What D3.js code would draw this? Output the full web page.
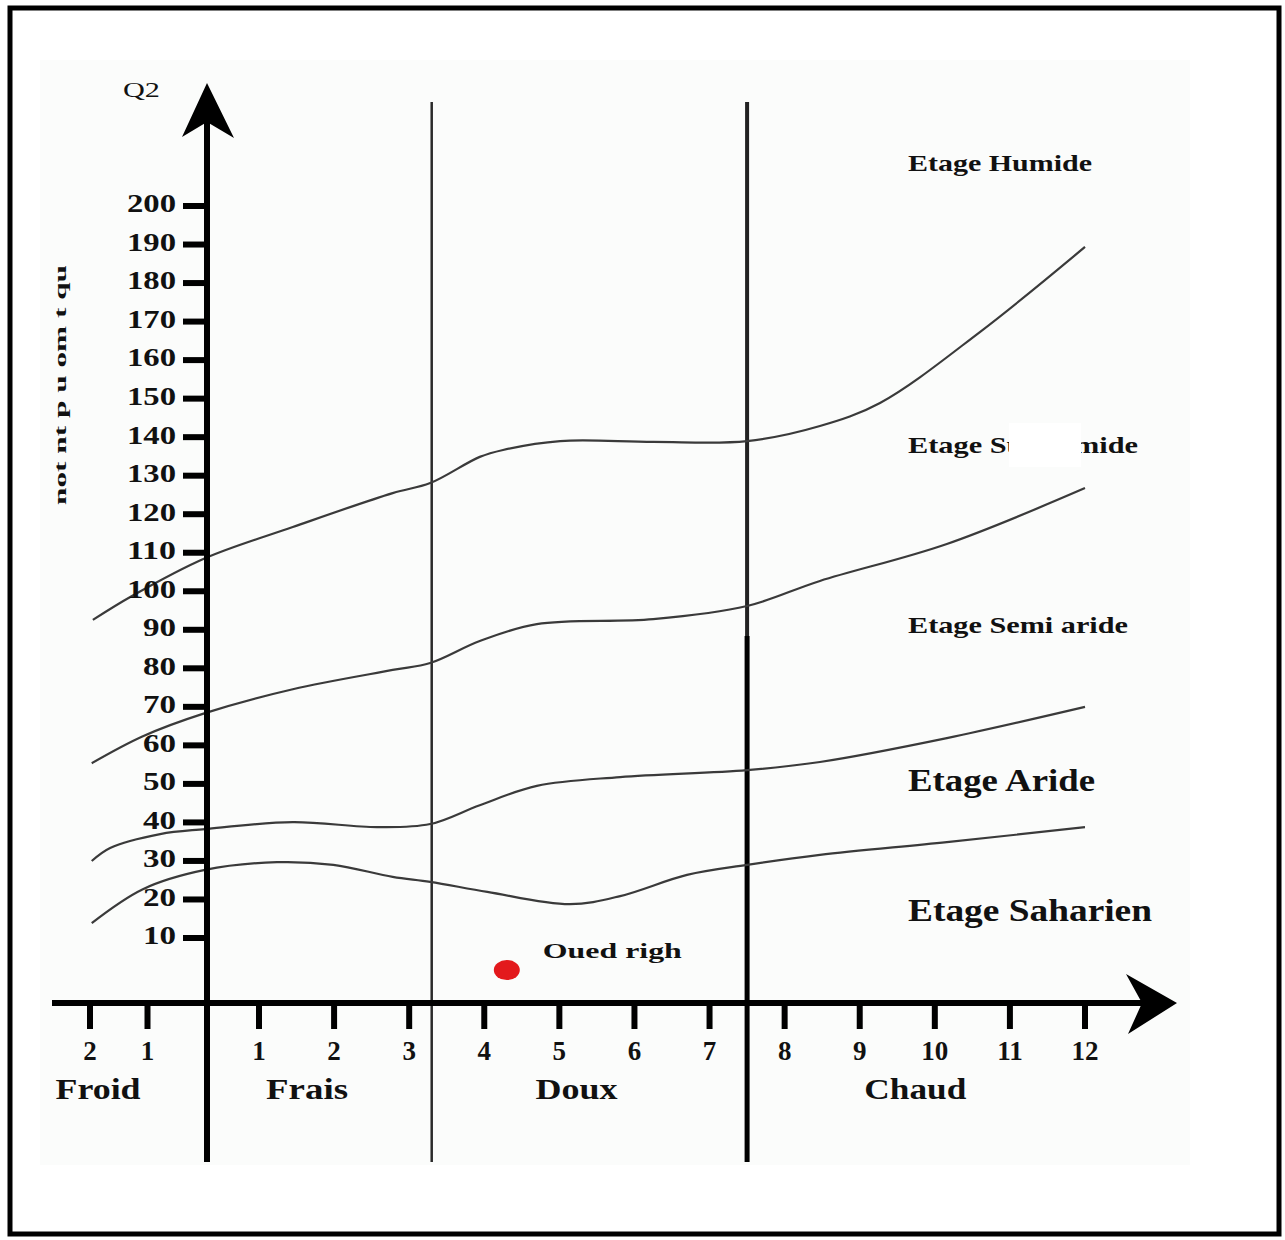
<!DOCTYPE html>
<html>
<head>
<meta charset="utf-8">
<script src="https://cdn.jsdelivr.net/npm/d3@7"></script>
<style>
  body { margin: 0; background: #fff; }
  text { font-family: "Liberation Serif", "DejaVu Serif", serif; fill: #111; }
</style>
</head>
<body>
<svg id="chart" width="1285" height="1240"></svg>
<script>
// Q2 ticks (left axis) and m ticks (bottom axis)
const q2Ticks = [10, 20, 30, 40, 50, 60, 70, 80, 90, 100, 110, 120, 130, 140, 150, 160, 170, 180, 190, 200];
const mTicks = [-2, -1, 1, 2, 3, 4, 5, 6, 7, 8, 9, 10, 11, 12];
const mTickLabels = ['2', '1', '1', '2', '3', '4', '5', '6', '7', '8', '9', '10', '11', '12'];

// thermal zones
const zones = ['Froid', 'Frais', 'Doux', 'Chaud'];
const zoneBounds = [3.3, 7.5];

// bioclimatic stages
const stages = ['Etage Humide', 'Etage Subhumide', 'Etage Semi aride', 'Etage Aride', 'Etage Saharien'];

// boundary curves between stages, [m, Q2]
const humideLimit = [[-1.95, 91.8], [-1.27, 98.0], [0, 107.8], [1.45, 115.9], [2.78, 124.7], [3.28, 127.3],
  [3.94, 134.1], [4.25, 135.9], [5.01, 138.2], [6.25, 138.0], [7.5, 138.2], [8.47, 142.1], [9.27, 148.1],
  [10.6, 166.5], [12, 188.6]];
const subhumideLimit = [[-1.97, 54.6], [-1.08, 61.6], [0, 67.6], [1.45, 73.8], [2.78, 78.8], [3.28, 80.6],
  [3.94, 86.3], [4.7, 90.7], [6.25, 92.0], [7.5, 95.4], [8.47, 101.9], [10.16, 111.5], [12, 126.0]];
const semiarideLimit = [[-1.97, 29.2], [-1.65, 32.6], [-0.78, 36.2], [0, 37.5], [1.45, 39.3], [2.57, 38.0],
  [3.28, 38.8], [3.94, 43.7], [4.7, 48.7], [5.81, 51.0], [7.5, 52.8], [8.47, 54.9], [10.16, 61.1], [12, 69.2]];
const arideLimit = [[-1.97, 13.1], [-1.08, 21.9], [0, 26.9], [1.24, 28.9], [1.99, 28.2], [2.78, 25.1],
  [3.28, 23.8], [4.04, 21.2], [5.14, 18.0], [5.81, 20.1], [6.7, 25.6], [7.5, 28.2], [8.47, 30.8],
  [10.16, 34.1], [12, 38.0]];

// station
const stationName = 'Oued righ';
const stationM = 4.3;
const stationQ2 = 0.9;

const svg = d3.select('#chart');

// Scales (m axis is stretched differently on each side of 0 and 1)
const x = d3.scaleLinear().domain([-2, 0, 1, 12]).range([90, 205, 259, 1085]);
const y = d3.scaleLinear().domain([10, 200]).range([935, 203]);

const axisY = 1003;
const axisX = x(0) + 2;
const plotTop = 102;
const plotBottom = 1162;

// frame and scanned page background
svg.append('rect').attr('x', 40).attr('y', 60).attr('width', 1150).attr('height', 1105).attr('fill', '#fbfcfb');
svg.append('rect').attr('x', 10).attr('y', 8).attr('width', 1269).attr('height', 1226)
  .attr('fill', 'none').attr('stroke', '#000').attr('stroke-width', 5);

// zone separators
svg.append('line').attr('x1', x(zoneBounds[0])).attr('x2', x(zoneBounds[0]))
  .attr('y1', plotTop).attr('y2', plotBottom).attr('stroke', '#2a2a2a').attr('stroke-width', 2.5);
svg.append('line').attr('x1', x(zoneBounds[1])).attr('x2', x(zoneBounds[1]))
  .attr('y1', plotTop).attr('y2', 636).attr('stroke', '#222').attr('stroke-width', 4);
svg.append('line').attr('x1', x(zoneBounds[1])).attr('x2', x(zoneBounds[1]))
  .attr('y1', 636).attr('y2', plotBottom).attr('stroke', '#000').attr('stroke-width', 5);

// boundary curves
const line = d3.line().x(d => x(d[0])).y(d => y(d[1])).curve(d3.curveCatmullRom.alpha(0.5));
[humideLimit, subhumideLimit, semiarideLimit, arideLimit].forEach(function (c) {
  svg.append('path').attr('d', line(c)).attr('fill', 'none')
    .attr('stroke', '#3a3a3a').attr('stroke-width', 2.2);
});

// Y axis with arrow
svg.append('line').attr('x1', axisX).attr('x2', axisX).attr('y1', 118).attr('y2', plotBottom)
  .attr('stroke', '#000').attr('stroke-width', 6);
svg.append('path')
  .attr('d', `M${axisX},83 L${axisX + 27},138 L${axisX},122 L${axisX - 25},137 Z`)
  .attr('fill', '#000');
svg.append('text').attr('x', 123).attr('y', 97).attr('font-size', 22)
  .attr('textLength', 37).attr('lengthAdjust', 'spacingAndGlyphs').text('Q2');

const yTick = svg.append('g').selectAll('g').data(q2Ticks).enter().append('g');
yTick.append('line').attr('x1', axisX - 24).attr('x2', axisX).attr('y1', d => y(d) + 3).attr('y2', d => y(d) + 3)
  .attr('stroke', '#000').attr('stroke-width', 6);
yTick.append('text').attr('x', 176).attr('y', d => y(d)).attr('dy', '0.36em')
  .attr('text-anchor', 'end').attr('font-size', 26).attr('font-weight', 'bold')
  .attr('textLength', d => (d >= 100 ? 49 : 33)).attr('lengthAdjust', 'spacingAndGlyphs')
  .text(d => d);

// X axis with arrow
svg.append('line').attr('x1', 52).attr('x2', 1145).attr('y1', axisY).attr('y2', axisY)
  .attr('stroke', '#000').attr('stroke-width', 6);
svg.append('path')
  .attr('d', `M1177,${axisY} L1126,${axisY - 29} L1142,${axisY} L1128,${axisY + 31} Z`)
  .attr('fill', '#000');

const xTick = svg.append('g').selectAll('g').data(mTicks).enter().append('g');
xTick.append('line').attr('x1', d => x(d)).attr('x2', d => x(d)).attr('y1', axisY).attr('y2', axisY + 26)
  .attr('stroke', '#000').attr('stroke-width', 6);
xTick.append('text').attr('x', d => x(d)).attr('y', 1060).attr('text-anchor', 'middle')
  .attr('font-size', 27).attr('font-weight', 'bold')
  .text((d, i) => mTickLabels[i]);

// thermal zone names
const zoneCenters = [-1.86, 1.64, 5.23, 9.74];
const zoneWidths = [85, 82, 82, 102];
svg.append('g').selectAll('text').data(zones).enter().append('text')
  .attr('x', (d, i) => x(zoneCenters[i])).attr('y', 1099).attr('text-anchor', 'middle')
  .attr('font-size', 30).attr('font-weight', 'bold')
  .attr('textLength', (d, i) => zoneWidths[i]).attr('lengthAdjust', 'spacingAndGlyphs')
  .text(d => d);

// stage names
const stageQ2 = [210.4, 137.2, 90.5, 50.2, 16.5];
const stageSize = [24, 24, 24, 31, 31];
const stageWidth = [184, 230, 220, 187, 244];
svg.append('g').selectAll('text').data(stages).enter().append('text')
  .attr('x', 908).attr('y', (d, i) => y(stageQ2[i])).attr('dy', '0.35em')
  .attr('font-size', (d, i) => stageSize[i]).attr('font-weight', 'bold').attr('fill', '#222')
  .attr('textLength', (d, i) => stageWidth[i]).attr('lengthAdjust', 'spacingAndGlyphs')
  .text(d => d);
// patch of the scan that blanks part of "Subhumide"
svg.append('rect').attr('x', 1009).attr('y', y(stageQ2[1]) - 22).attr('width', 72).attr('height', 44)
  .attr('fill', '#fff');

// station
svg.append('ellipse').attr('cx', x(stationM)).attr('cy', y(stationQ2)).attr('rx', 13).attr('ry', 10)
  .attr('fill', '#e3191c');
svg.append('text').attr('x', x(stationM) + 36).attr('y', y(stationQ2) - 12)
  .attr('font-size', 21).attr('font-weight', 'bold').attr('fill', '#1d1d3a')
  .attr('textLength', 139).attr('lengthAdjust', 'spacingAndGlyphs').text(stationName);

// faint rotated caption left of the axis
svg.append('text').attr('transform', 'translate(66,385) rotate(-90)').attr('text-anchor', 'middle')
  .attr('font-size', 17).attr('font-weight', 'bold').attr('fill', '#333')
  .attr('textLength', 240).attr('lengthAdjust', 'spacingAndGlyphs').text('not nt p u om t qu');
</script>
</body>
</html>
